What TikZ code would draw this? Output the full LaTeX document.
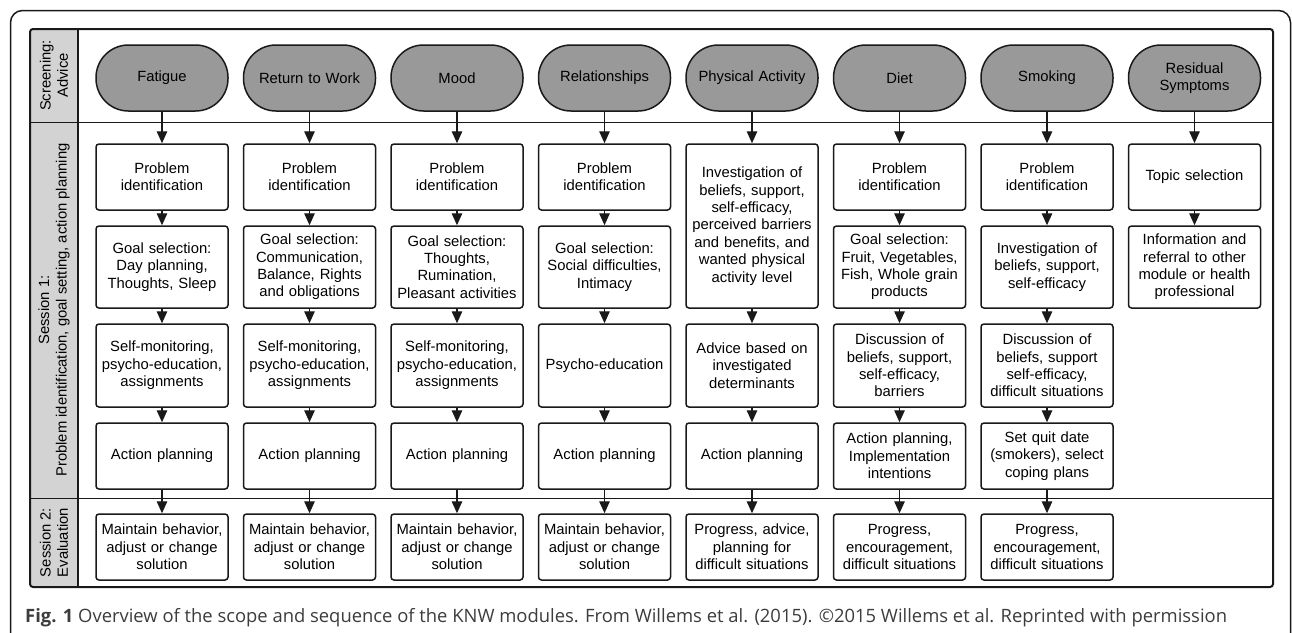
\documentclass[tikz,border=0pt]{standalone}
\usepackage{fontspec}
\setmainfont{Liberation Sans}
\newfontfamily\capfont{Open Sans}
\usetikzlibrary{arrows.meta}
\definecolor{ovalgray}{RGB}{153,153,153}
\definecolor{labgray}{RGB}{211,211,211}
\definecolor{ink}{RGB}{25,25,25}
\definecolor{capink}{RGB}{60,60,60}
\tikzset{
  txt/.style={font=\fontsize{14.8}{17.4}\selectfont},
  stage/.style={txt, draw=ink, fill=ovalgray, rounded corners=32.5pt, line width=1.5pt,
    minimum width=132pt, minimum height=66pt, text width=126pt, align=center, inner sep=0pt},
  stepbox/.style={txt, draw=ink, fill=white, rounded corners=3pt, line width=1.5pt,
    minimum width=132pt, text width=128pt, align=center, inner sep=0pt},
  arr/.style={draw=ink, line width=1.4pt, -{Triangle[length=12pt,width=10.5pt]}},
  lab/.style={txt, rotate=90, align=center, inner sep=0pt},
}
\begin{document}
\begin{tikzpicture}[x=1pt,y=-1pt]
\useasboundingbox (0,0) rectangle (1292,632);
\clip (0,0) rectangle (1292,632);
% outer frame
\draw[ink, line width=1.5pt, rounded corners=12pt] (10.5,700) -- (10.5,10.5) -- (1290.5,10.5) -- (1290.5,700);
% inner frame with label column
\begin{scope}
  \clip[rounded corners=3pt] (30,29) rectangle (1273,587);
  \fill[labgray] (30,29) rectangle (78,587);
\end{scope}
\draw[ink, line width=1pt] (30,122) -- (1273,122);
\draw[ink, line width=1pt] (30,498) -- (1273,498);
\draw[ink, line width=1.2pt] (78,29) -- (78,587);
\draw[ink, line width=2pt, rounded corners=3pt] (30,29) rectangle (1273,587);
% row labels
\node[lab] (l1) at (54,75.5) {Screening:\\Advice};
\node[lab] (l2) at (54,310) {Session 1:\\Problem identification, goal setting, action planning};
\node[lab] (l3) at (54,542.5) {Session 2:\\Evaluation};
% stages
\node[stage] (o1) at (162,78) {Fatigue};
\node[stage] (o2) at (309.5,78) {Return to Work};
\node[stage] (o3) at (457,78) {Mood};
\node[stage] (o4) at (604.5,78) {Relationships};
\node[stage] (o5) at (752,78) {Physical Activity};
\node[stage] (o6) at (899.5,78) {Diet};
\node[stage] (o7) at (1047,78) {Smoking};
\node[stage] (o8) at (1194.5,78) {Residual\\Symptoms};
% column 1
\node[stepbox, minimum height=66pt] (a1) at (162,177) {Problem\\identification};
\node[stepbox, minimum height=82pt] (a2) at (162,267) {Goal selection:\\Day planning,\\Thoughts, Sleep};
\node[stepbox, minimum height=83pt] (a3) at (162,365.5) {Self-monitoring,\\psycho-education,\\assignments};
\node[stepbox, minimum height=66pt] (a4) at (162,456) {Action planning};
\node[stepbox, minimum height=66pt] (a5) at (162,547) {Maintain behavior,\\adjust or change\\solution};
% column 2
\node[stepbox, minimum height=66pt] (b1) at (309.5,177) {Problem\\identification};
\node[stepbox, minimum height=82pt] (b2) at (309.5,267) {Goal selection:\\Communication,\\Balance, Rights\\and obligations};
\node[stepbox, minimum height=83pt] (b3) at (309.5,365.5) {Self-monitoring,\\psycho-education,\\assignments};
\node[stepbox, minimum height=66pt] (b4) at (309.5,456) {Action planning};
\node[stepbox, minimum height=66pt] (b5) at (309.5,547) {Maintain behavior,\\adjust or change\\solution};
% column 3
\node[stepbox, minimum height=66pt] (c1) at (457,177) {Problem\\identification};
\node[stepbox, minimum height=82pt] (c2) at (457,267) {Goal selection:\\Thoughts,\\Rumination,\\Pleasant activities};
\node[stepbox, minimum height=83pt] (c3) at (457,365.5) {Self-monitoring,\\psycho-education,\\assignments};
\node[stepbox, minimum height=66pt] (c4) at (457,456) {Action planning};
\node[stepbox, minimum height=66pt] (c5) at (457,547) {Maintain behavior,\\adjust or change\\solution};
% column 4
\node[stepbox, minimum height=66pt] (d1) at (604.5,177) {Problem\\identification};
\node[stepbox, minimum height=82pt] (d2) at (604.5,267) {Goal selection:\\Social difficulties,\\Intimacy};
\node[stepbox, minimum height=83pt] (d3) at (604.5,365.5) {Psycho-education};
\node[stepbox, minimum height=66pt] (d4) at (604.5,456) {Action planning};
\node[stepbox, minimum height=66pt] (d5) at (604.5,547) {Maintain behavior,\\adjust or change\\solution};
% column 5
\node[stepbox, minimum height=164pt] (e1) at (752,226) {Investigation of\\beliefs, support,\\self-efficacy,\\perceived barriers\\and benefits, and\\wanted physical\\activity level};
\node[stepbox, minimum height=83pt] (e3) at (752,365.5) {Advice based on\\investigated\\determinants};
\node[stepbox, minimum height=66pt] (e4) at (752,456) {Action planning};
\node[stepbox, minimum height=66pt] (e5) at (752,547) {Progress, advice,\\planning for\\difficult situations};
% column 6
\node[stepbox, minimum height=66pt] (f1) at (899.5,177) {Problem\\identification};
\node[stepbox, minimum height=82pt] (f2) at (899.5,267) {Goal selection:\\Fruit, Vegetables,\\Fish, Whole grain\\products};
\node[stepbox, minimum height=83pt] (f3) at (899.5,365.5) {Discussion of\\beliefs, support,\\self-efficacy,\\barriers};
\node[stepbox, minimum height=66pt] (f4) at (899.5,456) {Action planning,\\Implementation\\intentions};
\node[stepbox, minimum height=66pt] (f5) at (899.5,547) {Progress,\\encouragement,\\difficult situations};
% column 7
\node[stepbox, minimum height=66pt] (g1) at (1047,177) {Problem\\identification};
\node[stepbox, minimum height=82pt] (g2) at (1047,267) {Investigation of\\beliefs, support,\\self-efficacy};
\node[stepbox, minimum height=83pt] (g3) at (1047,365.5) {Discussion of\\beliefs, support\\self-efficacy,\\difficult situations};
\node[stepbox, minimum height=66pt] (g4) at (1047,456) {Set quit date\\(smokers), select\\coping plans};
\node[stepbox, minimum height=66pt] (g5) at (1047,547) {Progress,\\encouragement,\\difficult situations};
% column 8
\node[stepbox, minimum height=66pt] (h1) at (1194.5,177) {Topic selection};
\node[stepbox, minimum height=82pt] (h2) at (1194.5,267) {Information and\\referral to other\\module or health\\professional};
% arrows
\foreach \c/\o in {a/o1,b/o2,c/o3,d/o4,f/o6,g/o7}{
  \draw[arr] (\o) -- (\c1);
  \draw[arr] (\c1) -- (\c2);
  \draw[arr] (\c2) -- (\c3);
  \draw[arr] (\c3) -- (\c4);
  \draw[arr] (\c4) -- (\c5);
}
\draw[arr] (o5) -- (e1);
\draw[arr] (e1) -- (e3);
\draw[arr] (e3) -- (e4);
\draw[arr] (e4) -- (e5);
\draw[arr] (o8) -- (h1);
\draw[arr] (h1) -- (h2);
% caption
\node[anchor=base west, inner sep=0pt, text=capink, font=\capfont\fontsize{18.4}{22}\selectfont] (cap) at (25,622)
  {\textbf{Fig. 1} Overview of the scope and sequence of the KNW modules. From Willems et al. (2015). ©2015 Willems et al. Reprinted with permission};
\end{tikzpicture}
\end{document}
